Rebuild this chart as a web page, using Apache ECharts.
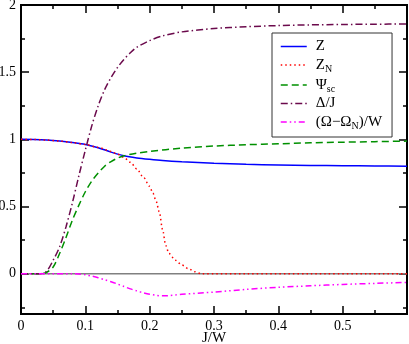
<!DOCTYPE html>
<html>
<head>
<meta charset="utf-8">
<script src="https://cdn.jsdelivr.net/npm/echarts@6/dist/echarts.min.js"></script>
<style>
  html, body { margin: 0; padding: 0; background: #fff; }
</style>
</head>
<body>
<div id="chart" style="width: 409px; height: 344px;"></div>
<script>
// Z (quasiparticle weight)
const zJ    = [0, 0.02, 0.04, 0.06, 0.08, 0.10, 0.12, 0.14, 0.16, 0.18, 0.20, 0.22, 0.25, 0.30, 0.35, 0.40, 0.45, 0.50, 0.55, 0.60];
const zVals = [1.0, 0.999, 0.995, 0.987, 0.976, 0.962, 0.938, 0.905, 0.878, 0.862, 0.851, 0.842, 0.833, 0.822, 0.814, 0.809, 0.806, 0.804, 0.802, 0.800];

// Z_N (normal state)
const znJ    = [0, 0.02, 0.04, 0.06, 0.08, 0.10, 0.12, 0.14, 0.15, 0.16, 0.17, 0.18, 0.19, 0.20, 0.205, 0.21, 0.215, 0.22, 0.225, 0.23, 0.24, 0.25, 0.26, 0.27, 0.28, 0.35, 0.45, 0.60];
const znVals = [1.0, 0.999, 0.995, 0.987, 0.976, 0.962, 0.94, 0.91, 0.89, 0.865, 0.83, 0.78, 0.72, 0.65, 0.60, 0.54, 0.46, 0.33, 0.21, 0.15, 0.10, 0.065, 0.038, 0.015, 0.0, 0.0, 0.0, 0.0];

// Psi_sc
const psiJ    = [0, 0.03, 0.04, 0.05, 0.06, 0.07, 0.08, 0.09, 0.10, 0.11, 0.12, 0.13, 0.14, 0.15, 0.16, 0.18, 0.20, 0.25, 0.30, 0.35, 0.40, 0.45, 0.50, 0.55, 0.60];
const psiVals = [0, 0, 0.01, 0.05, 0.15, 0.27, 0.40, 0.51, 0.61, 0.69, 0.75, 0.80, 0.835, 0.86, 0.878, 0.897, 0.91, 0.935, 0.95, 0.96, 0.967, 0.974, 0.979, 0.983, 0.987];

// Delta/J
const gapJ    = [0, 0.03, 0.04, 0.05, 0.06, 0.07, 0.08, 0.09, 0.10, 0.11, 0.12, 0.13, 0.14, 0.15, 0.16, 0.17, 0.18, 0.20, 0.22, 0.25, 0.30, 0.35, 0.40, 0.45, 0.50, 0.55, 0.60];
const gapVals = [0, 0, 0.02, 0.10, 0.20, 0.35, 0.53, 0.73, 0.92, 1.10, 1.25, 1.37, 1.46, 1.535, 1.595, 1.645, 1.685, 1.735, 1.77, 1.80, 1.825, 1.838, 1.847, 1.852, 1.855, 1.857, 1.859];

// (Omega - Omega_N)/W
const omJ    = [0, 0.08, 0.09, 0.10, 0.11, 0.12, 0.13, 0.14, 0.15, 0.16, 0.17, 0.18, 0.19, 0.20, 0.21, 0.22, 0.23, 0.24, 0.25, 0.30, 0.35, 0.40, 0.45, 0.50, 0.55, 0.60];
const omVals = [0, 0, -0.002, -0.008, -0.018, -0.03, -0.045, -0.06, -0.077, -0.095, -0.113, -0.128, -0.142, -0.153, -0.161, -0.165, -0.163, -0.158, -0.153, -0.137, -0.117, -0.101, -0.09, -0.08, -0.072, -0.065];

const xMajor = [0, 0.1, 0.2, 0.3, 0.4, 0.5, 0.6];
const xMinor = [0.05, 0.15, 0.25, 0.35, 0.45, 0.55];
const xLabels = [0, 0.1, 0.2, 0.3, 0.4, 0.5];
const yMajor = [0, 0.5, 1, 1.5, 2];
const yMinor = [-0.25, 0.25, 0.75, 1.25, 1.75];

const zip = (xs, ys) => xs.map((x, i) => [x, ys[i]]);
const FONT = 'Liberation Serif';

const chart = echarts.init(document.getElementById('chart'));

const xBase = {
  type: 'value', min: 0, max: 0.6,
  axisLine: { show: true, onZero: false, lineStyle: { color: '#000', width: 2 } },
  splitLine: { show: false },
  axisLabel: { show: false }
};
const yBase = {
  type: 'value', min: -0.3, max: 2,
  axisLine: { show: true, onZero: false, lineStyle: { color: '#000', width: 2 } },
  splitLine: { show: false },
  axisLabel: { show: false }
};
const tick = (len, vals) => ({ inside: true, length: len, lineStyle: { color: '#000', width: 1.5 }, customValues: vals });

const option = {
  animation: false,
  grid: { left: 21, top: 5, width: 386, height: 309, outerBoundsMode: 'none', containLabel: false },
  xAxis: [
    Object.assign({}, xBase, {
      position: 'bottom',
      name: 'J/W', nameLocation: 'middle', nameGap: 17, nameMoveOverlap: false,
      nameTextStyle: { fontFamily: FONT, fontSize: 15, color: '#000', verticalAlign: 'top' },
      axisTick: tick(8, xMajor),
      axisLabel: { show: true, margin: 5, fontFamily: FONT, fontSize: 14, color: '#000', customValues: xLabels }
    }),
    Object.assign({}, xBase, { position: 'bottom', axisTick: tick(4, xMinor) }),
    Object.assign({}, xBase, { position: 'top', axisTick: tick(8, xMajor) }),
    Object.assign({}, xBase, { position: 'top', axisTick: tick(4, xMinor) })
  ],
  yAxis: [
    Object.assign({}, yBase, {
      position: 'left',
      axisTick: tick(8, yMajor),
      axisLabel: { show: true, margin: 5, fontFamily: FONT, fontSize: 14, color: '#000', customValues: yMajor }
    }),
    Object.assign({}, yBase, { position: 'left', axisTick: tick(4, yMinor) }),
    Object.assign({}, yBase, { position: 'right', axisTick: tick(8, yMajor) }),
    Object.assign({}, yBase, { position: 'right', axisTick: tick(4, yMinor) })
  ],
  legend: {
    orient: 'vertical',
    left: 272, top: 33,
    padding: [6, 10, 6, 8],
    itemGap: 2,
    itemWidth: 26,
    itemHeight: 16,
    borderColor: '#333',
    borderWidth: 1,
    backgroundColor: '#fff',
    itemStyle: { opacity: 0 },
    lineStyle: { width: 1.5 },
    data: ['Z', 'ZN', 'Ψsc', 'Δ/J', '(Ω−ΩN)/W'],
    formatter: function (name) {
      const map = {
        'Z': '{m|Z}',
        'ZN': '{m|Z}{s|N}',
        'Ψsc': '{m|Ψ}{s|sc}',
        'Δ/J': '{m|Δ/J}',
        '(Ω−ΩN)/W': '{m|(Ω−Ω}{s|N}{m|)/W}'
      };
      return map[name];
    },
    textStyle: {
      fontFamily: FONT, fontSize: 15, color: '#000', padding: [0, 0, 0, 4],
      rich: {
        m: { fontFamily: FONT, fontSize: 15, color: '#000', lineHeight: 17 },
        s: { fontFamily: FONT, fontSize: 10, color: '#000', lineHeight: 17, padding: [8, 0, 0, 0] }
      }
    }
  },
  series: [
    {
      name: 'zero', type: 'line', silent: true, symbol: 'none',
      xAxisIndex: 0, yAxisIndex: 0,
      data: [[0, 0], [0.6, 0]],
      lineStyle: { color: '#808080', width: 1.5 }, z: 1
    },
    {
      name: 'Z', type: 'line', symbol: 'none', smooth: 0.3,
      data: zip(zJ, zVals),
      itemStyle: { color: '#0000ff' },
      lineStyle: { color: '#0000ff', width: 1.5 }
    },
    {
      name: 'ZN', type: 'line', symbol: 'none', smooth: 0.3, smoothMonotone: 'x',
      data: zip(znJ, znVals),
      itemStyle: { color: '#ff0000' },
      lineStyle: { color: '#ff0000', width: 1.5, type: [1.5, 3] }
    },
    {
      name: 'Ψsc', type: 'line', symbol: 'none', smooth: 0.3,
      data: zip(psiJ, psiVals),
      itemStyle: { color: '#009000' },
      lineStyle: { color: '#009000', width: 1.5, type: [7, 4] }
    },
    {
      name: 'Δ/J', type: 'line', symbol: 'none', smooth: 0.3,
      data: zip(gapJ, gapVals),
      itemStyle: { color: '#6b0a4c' },
      lineStyle: { color: '#6b0a4c', width: 1.5, type: [7, 3, 1.5, 3] }
    },
    {
      name: '(Ω−ΩN)/W', type: 'line', symbol: 'none', smooth: 0.3,
      data: zip(omJ, omVals),
      itemStyle: { color: '#ff00ff' },
      lineStyle: { color: '#ff00ff', width: 1.5, type: [6, 3, 1.5, 3, 1.5, 3] }
    }
  ]
};

chart.setOption(option);
</script>
</body>
</html>
